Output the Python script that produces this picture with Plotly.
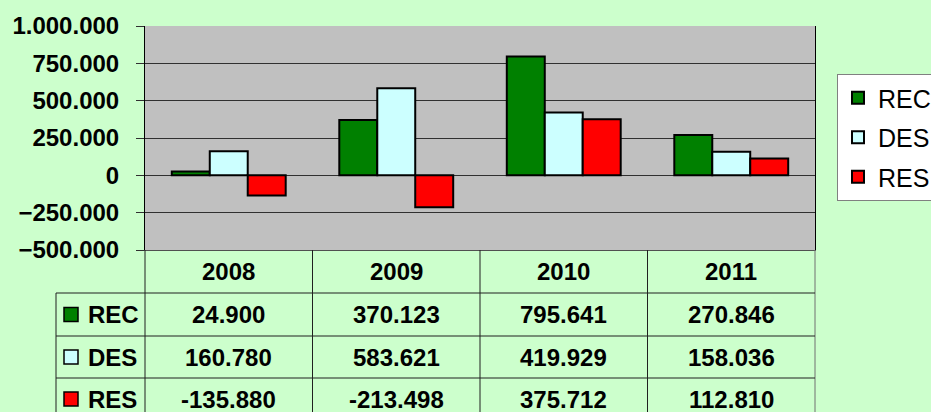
import plotly.graph_objects as go

# ---------------- data ----------------
years = ["2008", "2009", "2010", "2011"]
series_names = ["REC", "DES", "RES"]
rec = [24900, 370123, 795641, 270846]
des = [160780, 583621, 419929, 158036]
res = [-135880, -213498, 375712, 112810]
series_values = [rec, des, res]
series_colors = ["#008000", "#CCFFFF", "#FF0000"]
y_tick_values = [-500000, -250000, 0, 250000, 500000, 750000, 1000000]

# ---------------- layout geometry (pixels) ----------------
W, H = 931, 412
PL, PR, PT, PB = 145, 815, 26, 250          # plot area
FONT = "Liberation Sans, Arial, sans-serif"
GRID = "#303030"


def px(xp):
    return (xp - PL) / (PR - PL)


def py(yp):
    return (PB - yp) / (PB - PT)


def fmt(v):
    return f"{v:,}".replace(",", ".")


fig = go.Figure()
for name, vals, col in zip(series_names, series_values, series_colors):
    fig.add_trace(go.Bar(
        x=years, y=vals, name=name, legendgroup=name,
        marker=dict(color=col, line=dict(color="#000000", width=2)),
    ))

shapes = []
annotations = []

# table geometry
col_edges = [PL + i * (PR - PL) / len(years) for i in range(len(years) + 1)]
label_left = 56
row_edges = [PB, 293, 336, 378, 420]
line_style = dict(color="#202020", width=1)

# vertical lines
for xe in col_edges:
    shapes.append(dict(type="line", xref="paper", yref="paper",
                       x0=px(xe), x1=px(xe), y0=py(PB), y1=py(430),
                       line=dict(color="#202020" if xe < PR else "#707070", width=1)))
shapes.append(dict(type="line", xref="paper", yref="paper",
                   x0=px(label_left), x1=px(label_left), y0=py(row_edges[1]), y1=py(430),
                   line=line_style))
# horizontal lines
for ye in row_edges[1:4]:
    shapes.append(dict(type="line", xref="paper", yref="paper",
                       x0=px(label_left), x1=px(PR), y0=py(ye), y1=py(ye),
                       line=line_style))

bold = dict(family=FONT, size=24, color="#000000", weight="bold")

# header
for i, yr in enumerate(years):
    cx = (col_edges[i] + col_edges[i + 1]) / 2
    annotations.append(dict(xref="paper", yref="paper", x=px(cx),
                            y=py((row_edges[0] + row_edges[1]) / 2),
                            xanchor="center", yanchor="middle",
                            text=yr, showarrow=False, font=bold))
# rows
for r, (name, vals, col) in enumerate(zip(series_names, series_values, series_colors)):
    yc = (row_edges[r + 1] + row_edges[r + 2]) / 2
    shapes.append(dict(type="rect", xref="paper", yref="paper",
                       x0=px(64), x1=px(78), y0=py(yc - 7), y1=py(yc + 7),
                       fillcolor=col, line=dict(color="#000000", width=1.5)))
    annotations.append(dict(xref="paper", yref="paper", x=px(86), y=py(yc),
                            xanchor="left", yanchor="middle",
                            text=name, showarrow=False, font=bold))
    for i, v in enumerate(vals):
        cx = (col_edges[i] + col_edges[i + 1]) / 2
        annotations.append(dict(xref="paper", yref="paper", x=px(cx), y=py(yc),
                                xanchor="center", yanchor="middle",
                                text=fmt(v), showarrow=False, font=bold))

fig.update_layout(
    width=W, height=H,
    margin=dict(l=PL, r=W - PR, t=PT, b=H - PB, pad=0, autoexpand=False),
    paper_bgcolor="#CCFFCC",
    plot_bgcolor="#C0C0C0",
    separators=",.",
    barmode="group",
    bargap=0.32,
    bargroupgap=0,
    font=dict(family=FONT, color="#000000"),
    xaxis=dict(type="category", showticklabels=False, showgrid=False,
               zeroline=False, showline=True, linecolor="#505050", linewidth=1,
               ticks=""),
    yaxis=dict(range=[-500000, 1000000], tickvals=y_tick_values,
               tickformat=",d", showgrid=True, gridcolor=GRID, gridwidth=1,
               zeroline=True, zerolinecolor=GRID, zerolinewidth=1,
               showline=True, linecolor="#000000", linewidth=1, mirror=True,
               ticks="outside", ticklen=8, tickcolor="#303030",
               ticklabelstandoff=12,
               tickfont=dict(family=FONT, size=24, color="#000000", weight="bold")),
    legend=dict(x=px(837), y=py(74), xanchor="left", yanchor="top",
                bgcolor="#FFFFFF", bordercolor="#808080", borderwidth=1,
                font=dict(family=FONT, size=25, color="#000000"),
                tracegroupgap=4, traceorder="grouped"),
    shapes=shapes,
    annotations=annotations,
)

fig.write_html("out.html",
               config={"displayModeBar": False},
               post_script="document.body.style.margin='0';document.body.style.padding='0';")
